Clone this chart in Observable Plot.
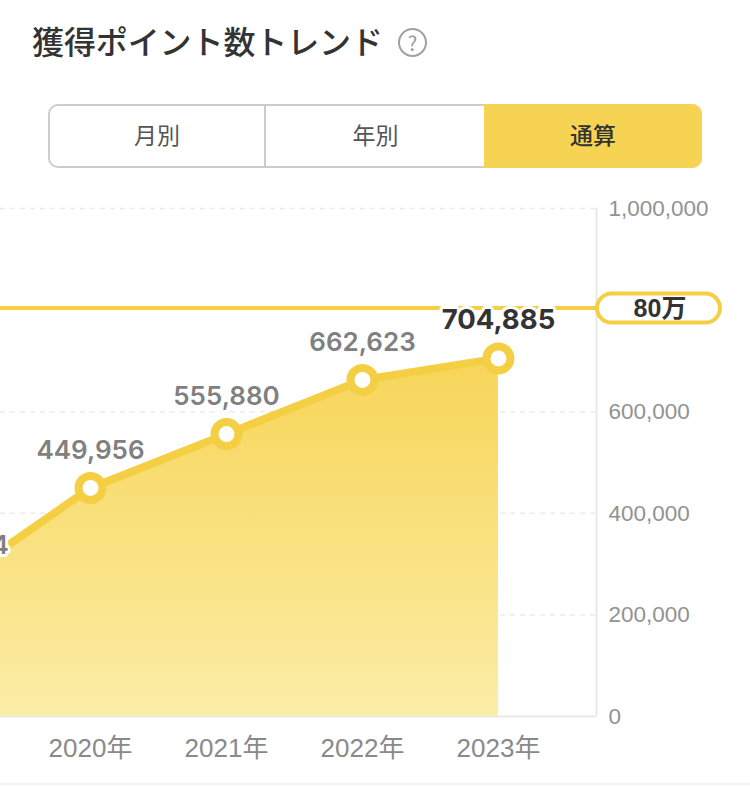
<!DOCTYPE html>
<html lang="ja">
<head>
<meta charset="utf-8">
<script src="https://cdn.jsdelivr.net/npm/d3@7"></script>
<script src="https://cdn.jsdelivr.net/npm/@observablehq/plot@0.6"></script>
<style>
html,body{margin:0;padding:0;background:#fff;width:750px;height:787px;overflow:hidden;font-family:"Noto Sans CJK JP",sans-serif}
#title{position:absolute;left:32px;top:18px;font-size:32px;font-weight:500;color:#333;line-height:44px;letter-spacing:-.1px;white-space:nowrap}
#help{position:absolute;left:398px;top:28px;width:25px;height:25px;border:2px solid #a0a0a0;border-radius:50%;color:#999;font-size:20px;line-height:25px;text-align:center}
#tabs{position:absolute;left:48px;top:104px;width:654px;height:64px;box-sizing:border-box;border:2px solid #ccc;border-radius:10px;display:flex;overflow:visible;font-size:23px;color:#555}
#tabs div{display:flex;align-items:center;justify-content:center;box-sizing:border-box;padding-bottom:4px}
#tabs .a{width:216px;border-right:2px solid #ccc}
#tabs .b{width:219px}
#tabs .c{position:absolute;left:434px;top:-2px;width:218px;height:64px;background:#f7d354;color:#333;font-weight:500;border-radius:0 10px 10px 0}
#chart{position:absolute;left:0;top:190px}
#foot{position:absolute;left:0;top:783px;width:750px;height:2px;background:#f3f3f3}
</style>
</head>
<body>
<div id="title">獲得ポイント数トレンド</div>
<div id="help">?</div>
<div id="tabs"><div class="a">月別</div><div class="b">年別</div><div class="c">通算</div></div>
<div id="chart"></div>
<div id="foot"></div>
<script>
const years = [2019, 2020, 2021, 2022, 2023];
const points = [264004, 449956, 555880, 662623, 704885];
const axisTicks = [0, 200000, 400000, 600000, 1000000];
const gridTicks = [200000, 400000, 600000, 1000000];
const yearTicks = [2020, 2021, 2022, 2023];
const goal = 800000;
const goalLabel = "80万";
const xWindow = [2019.338, 2023.721];

const gold = "#f4cf43";
const latin = '"Liberation Sans","Noto Sans CJK JP",sans-serif';
const rows = years.map((year, i) => ({year, value: points[i]}));
const last = rows[rows.length - 1];
const earlier = rows.slice(0, -1);

const gradient = () => {
  const ns = "http://www.w3.org/2000/svg";
  const defs = document.createElementNS(ns, "defs");
  defs.innerHTML = `<linearGradient id="fillGrad" x1="0" y1="0" x2="0" y2="1">
    <stop offset="0" stop-color="#f7d558"/><stop offset="1" stop-color="#fbeda6"/></linearGradient>`;
  return defs;
};

const pill = (index, {y}, values, {width, marginRight}) => {
  const g = d3.create("svg:g");
  const left = width - marginRight + 1, top = y(goal) - 2;
  g.append("rect").attr("x", left).attr("y", top - 14).attr("width", 123).attr("height", 29)
    .attr("rx", 14.5).attr("fill", "#fff").attr("stroke", gold).attr("stroke-width", 4);
  g.append("text").attr("x", left + 63).attr("y", top).attr("dy", "0.38em").attr("text-anchor", "middle")
    .attr("font-family", latin).attr("font-weight", 700).attr("font-size", 25).attr("fill", "#333").text(goalLabel);
  return g.node();
};

const plot = Plot.plot({
  width: 750,
  height: 597,
  marginLeft: 0,
  marginRight: 154,
  marginTop: 18,
  marginBottom: 71,
  style: {background: "transparent", overflow: "hidden"},
  x: {domain: xWindow, label: null},
  y: {domain: [0, 1000000], label: null},
  marks: [
    gradient,
    Plot.ruleY(gridTicks, {stroke: "#ebebeb", strokeWidth: 1.5, strokeDasharray: "5,5"}),
    Plot.ruleX([xWindow[1]], {y1: 0, y2: 1000000, stroke: "#e8e8e8", strokeWidth: 2}),
    Plot.ruleY([0], {stroke: "#e8e8e8", strokeWidth: 2}),
    Plot.axisY({anchor: "right", ticks: axisTicks, tickSize: 0, tickPadding: 12, label: null,
      tickFormat: d3.format(","), fontSize: 22.5, fontFamily: latin, color: "#929292"}),
    Plot.axisX({ticks: yearTicks, tickSize: 0, tickPadding: 22, label: null,
      tickFormat: d => d + "年", fontSize: 26, fontFamily: latin, color: "#8a8a8a"}),
    Plot.areaY(rows, {x: "year", y: "value", fill: "url(#fillGrad)"}),
    Plot.ruleY([goal], {stroke: gold, strokeWidth: 4, dy: -2}),
    Plot.line(rows, {x: "year", y: "value", stroke: gold, strokeWidth: 8}),
    Plot.dot(rows, {x: "year", y: "value", r: 12, fill: "#fff", stroke: gold, strokeWidth: 8}),
    Plot.text(earlier, {x: "year", y: "value", text: d => d3.format(",")(d.value), dy: -37,
      fontFamily: '"Inter",sans-serif', fontWeight: 600, fontSize: 26, fill: "#808080", stroke: "#fff", strokeWidth: 6, paintOrder: "stroke"}),
    Plot.text([last], {x: "year", y: "value", text: d => d3.format(",")(d.value), dy: -38,
      fontFamily: '"Inter",sans-serif', fontWeight: 700, fontSize: 27.5, fill: "#333", stroke: "#fff", strokeWidth: 6, paintOrder: "stroke"}),
    pill
  ]
});
document.getElementById("chart").append(plot);
</script>
</body>
</html>
